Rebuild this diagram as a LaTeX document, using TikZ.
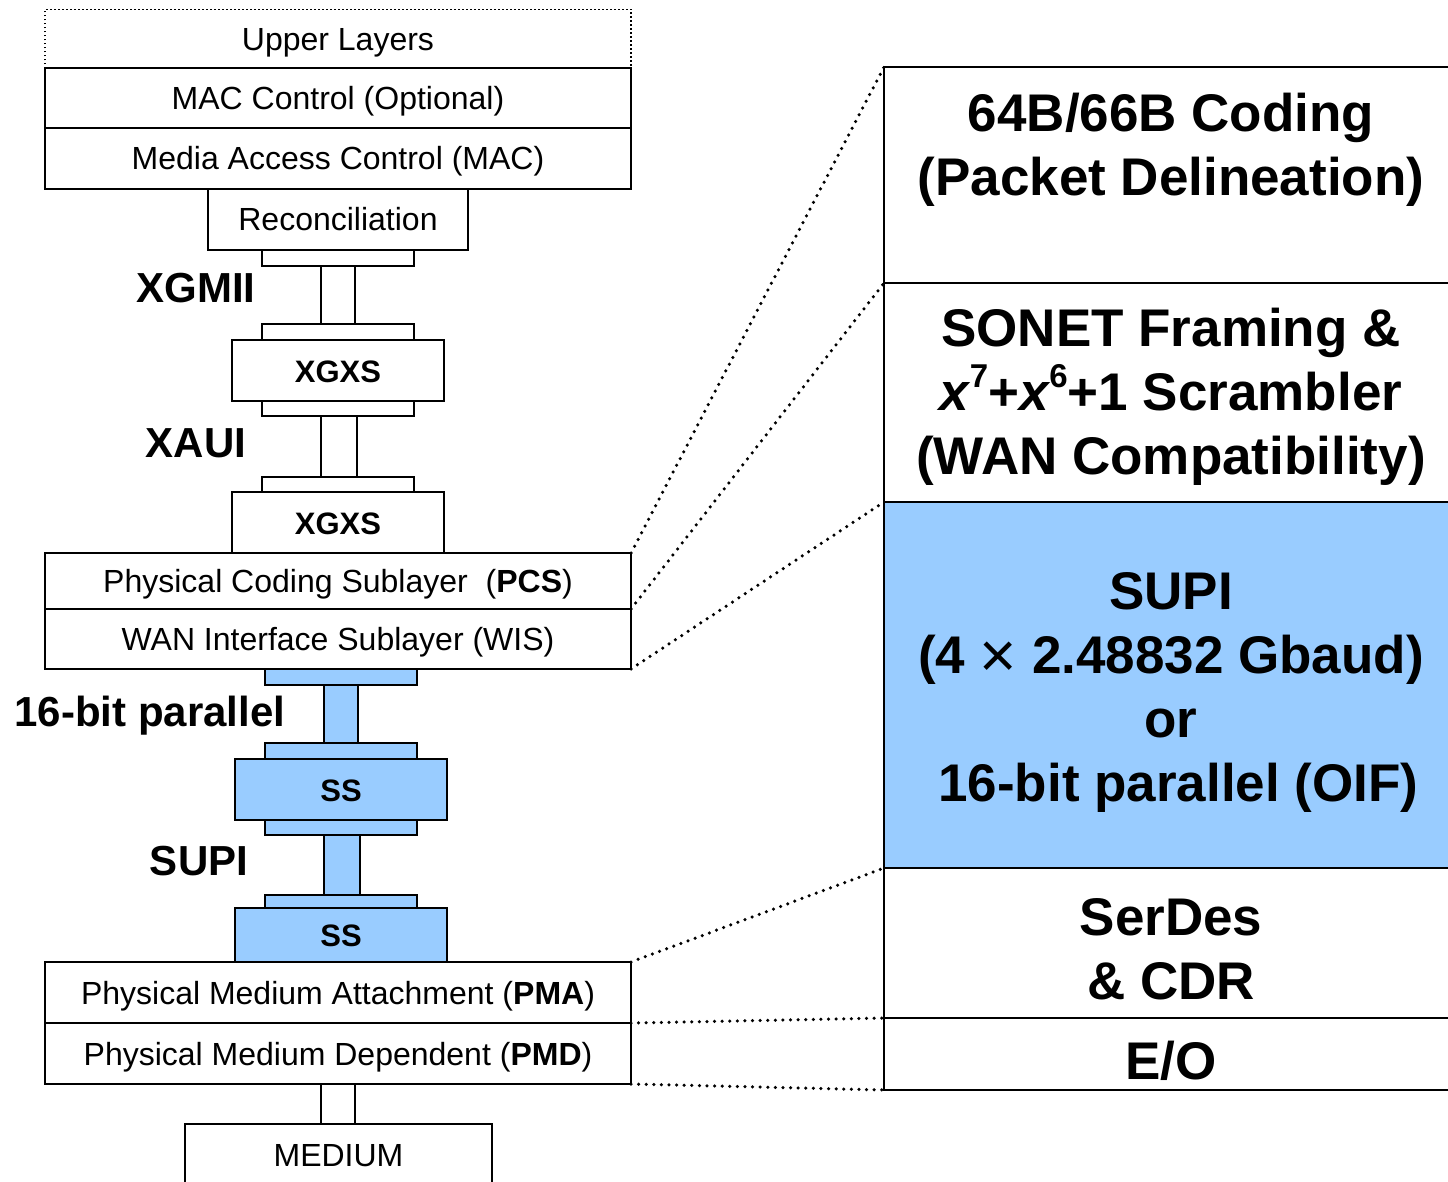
\documentclass[tikz,border=0pt]{standalone}
\usepackage{fontspec}
\setmainfont{Liberation Sans}
\definecolor{supiblue}{RGB}{153,204,255}
% small raised exponent set close to its base
\newcommand\expfig[1]{\kern-0.02em\raisebox{0.43em}{\fontsize{33}{33}\selectfont #1}}
\begin{document}
\begin{tikzpicture}[x=1pt,y=-1pt,
  every node/.style={inner sep=0pt, outer sep=0pt},
  layer/.style={draw, line width=2.4pt, fill=white, font=\fontsize{32}{36}\selectfont,
    text height=23pt, text depth=0pt},
  bare/.style={text height=0pt, text depth=0pt},
  blue/.style={layer, fill=supiblue},
  tab/.style={layer, bare, minimum width=152pt},
  wire/.style={layer, bare, minimum width=34pt},
  side/.style={draw, line width=2.4pt, minimum width=574pt},
  big/.style={font=\fontsize{53}{64}\selectfont\bfseries, align=center},
  iflabel/.style={font=\fontsize{42}{48}\selectfont\bfseries},
  zoomline/.style={line width=3.5pt, dash pattern=on 0pt off 7.6pt, line cap=round}
]
\useasboundingbox (0,0) rectangle (1448,1182);
\clip (0,0) rectangle (1448,1182);

% ---- left stack: upper layers down to reconciliation
\node[layer, draw=none, minimum width=586pt, minimum height=59pt] (upper) at (338,39) {Upper Layers};
\draw[line width=1.6pt, dash pattern=on 1.6pt off 2.4pt] (upper.south west) |- (upper.north east) -- (upper.south east);
\node[layer, minimum width=586pt, minimum height=60pt] (macctl) at (338,98) {MAC Control (Optional)};
\node[layer, minimum width=586pt, minimum height=61pt] (mac) at (338,158.5) {Media Access Control (MAC)};
\node[layer, minimum width=260pt, minimum height=61pt] (recon) at (338,219.5) {Reconciliation};

% ---- XGMII / XAUI with the two XGXS
\node[wire, minimum height=60pt] (xgmii) at (338,295) {};
\node[tab, minimum height=16pt] (t1) at (338,258) {};
\node[tab, minimum height=16pt] (t2) at (338,332) {};
\node[layer, font=\fontsize{31}{36}\selectfont\bfseries, minimum width=212pt, minimum height=61pt] (xgxsA) at (338,370.5) {XGXS};
\node[wire, minimum width=36pt, minimum height=63pt] (xaui) at (339,446.5) {};
\node[tab, minimum height=15pt] (t3) at (338,408.5) {};
\node[tab, minimum height=15pt] (t4) at (338,484.5) {};
\node[layer, font=\fontsize{31}{36}\selectfont\bfseries, minimum width=212pt, minimum height=61pt] (xgxsB) at (338,522.5) {XGXS};

\node[iflabel] (lxgmii) at (196,288) {XGMII};
\node[iflabel] (lxaui) at (196,443) {XAUI};

% ---- PCS / WIS
\node[layer, minimum width=586pt, minimum height=56pt] (pcs) at (338,581) {Physical Coding Sublayer\ \ (\textbf{PCS})};
\node[layer, minimum width=586pt, minimum height=60pt] (wis) at (338,639) {WAN Interface Sublayer (WIS)};

% ---- SUPI section (blue)
\node[blue, bare, minimum width=34pt, minimum height=60pt] (par) at (341,714) {};
\node[blue, bare, minimum width=152pt, minimum height=16pt] (b1) at (341,677) {};
\node[blue, bare, minimum width=152pt, minimum height=16pt] (b2) at (341,751) {};
\node[blue, font=\fontsize{31}{36}\selectfont\bfseries, minimum width=212pt, minimum height=61pt] (ssA) at (341,789.5) {SS};
\node[blue, bare, minimum width=36pt, minimum height=62pt] (supi) at (342,865) {};
\node[blue, bare, minimum width=152pt, minimum height=15pt] (b3) at (341,827.5) {};
\node[blue, bare, minimum width=152pt, minimum height=13pt] (b4) at (341,901.5) {};
\node[blue, font=\fontsize{31}{36}\selectfont\bfseries, minimum width=212pt, minimum height=54pt] (ssB) at (341,935) {SS};

\node[iflabel] (lpar) at (150,716) {16-bit parallel};
\node[iflabel] (lsupi) at (199,861) {SUPI};

% ---- PMA / PMD / medium
\node[layer, minimum width=586pt, minimum height=61pt] (pma) at (338,992.5) {Physical Medium Attachment (\textbf{PMA})};
\node[layer, minimum width=586pt, minimum height=61pt] (pmd) at (338,1053.5) {Physical Medium Dependent (\textbf{PMD})};
\node[wire, minimum height=40pt] (mwire) at (338,1104) {};
\node[layer, minimum width=307pt, minimum height=62pt] (medium) at (338.5,1155) {MEDIUM};

% ---- expanded view on the right
\node[side, minimum height=216pt] (r1) at (1171,175) {};
\node[side, minimum height=219pt] (r2) at (1171,392.5) {};
\node[side, fill=supiblue, minimum height=366pt] (r3) at (1171,685) {};
\node[side, minimum height=150pt] (r4) at (1171,943) {};
\node[side, minimum height=72pt] (r5) at (1171,1054) {};

\node[big] (r1t) at (1171,150) {64B/66B Coding\\(Packet Delineation)};
\node[big] (r2t) at (1171,397) {SONET Framing \&\\\textit{x}\expfig{7}+\textit{x}\expfig{6}+1 Scrambler\\(WAN Compatibility)};
\node[big] (r3t) at (1171,692) {SUPI\\(4 \raisebox{-4pt}{\mdseries\fontsize{64}{64}\selectfont ×} 2.48832 Gbaud)\\or\\\ 16-bit parallel (OIF)};
\node[big] (r4t) at (1171,949) {SerDes\\\& CDR};
\node[big] (r5t) at (1171,1061) {E/O};

% ---- dotted zoom lines
\draw[zoomline] (pcs.north east) -- (r1.north west);
\draw[zoomline] (pcs.south east) -- (r2.north west);
\draw[zoomline] (wis.south east) -- (r3.north west);
\draw[zoomline] (pma.north east) -- (r4.north west);
\draw[zoomline] (pmd.north east) -- (r5.north west);
\draw[zoomline] (pmd.south east) -- (r5.south west);
\end{tikzpicture}
\end{document}
